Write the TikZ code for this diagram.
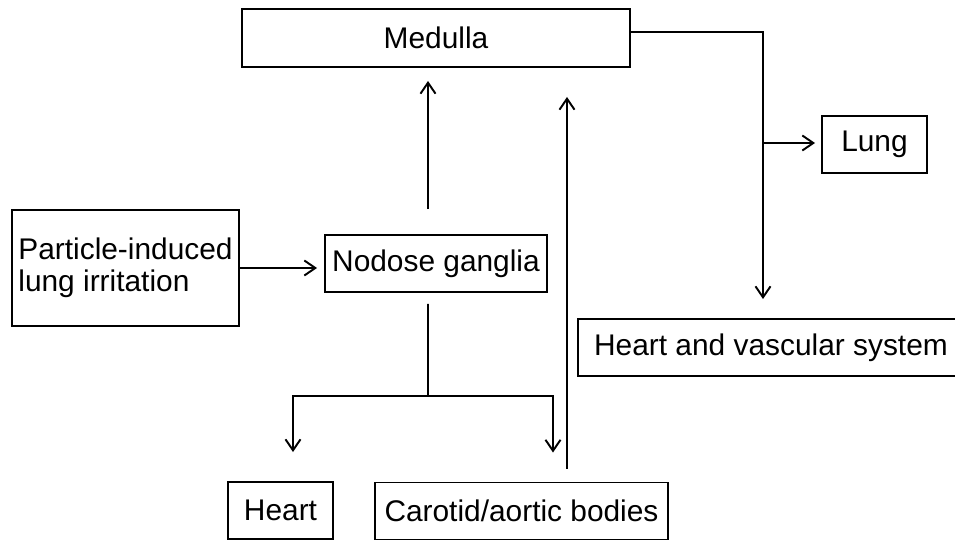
\documentclass[tikz,border=0pt]{standalone}
\usepackage{fontspec}
\setmainfont{Liberation Sans}
\usetikzlibrary{arrows.meta}

\begin{document}
\begin{tikzpicture}[line width=1.1pt,
    box/.style={rectangle,draw,inner sep=0pt,minimum height=1.14cm,
      font=\fontsize{17pt}{18.5pt}\selectfont},
    arr/.style={-{Straight Barb[length=0.22cm,width=0.3cm]}}]
    \useasboundingbox (0,0) rectangle (19.1,-10.8);

    \node (medulla) [box,minimum width=7.76cm,minimum height=1.16cm] at (8.72,-0.76) {Medulla};

    \node (particle) [box,align=left,minimum width=4.54cm,minimum height=2.32cm] at (2.51,-5.36) {Particle-induced\\lung irritation};
    \node (nodose) [box,minimum width=4.44cm] at (8.72,-5.27) {Nodose ganglia};

    \node (lung) [box,minimum width=2.1cm] at (17.49,-2.89) {Lung};
    \node (hvs) [box,minimum width=7.72cm] at (15.42,-6.95) {Heart and vascular system};

    \node (heart) [box,minimum width=2.1cm] at (5.61,-10.21) {Heart};
    \node (carotid) [box,minimum width=5.86cm] at (10.43,-10.22) {Carotid/aortic bodies};

    \coordinate (split) at (8.56,-7.92);
    \coordinate (branch) at (15.26,-2.86);

  \draw[arr,shorten >=0.14cm] (particle.east) -- (particle.east -| nodose.west);

  \draw[arr,shorten <=0.5cm,shorten >=0.26cm] ([xshift=-0.16cm]nodose.north) -- ([xshift=-0.16cm]medulla.south);

  \draw[shorten <=0.22cm] ([xshift=-0.16cm]nodose.south) -- (split);
  \draw[arr,shorten >=0.58cm] (split) -| ([xshift=0.25cm]heart.north);
  \draw[arr,shorten >=0.58cm] (split) -| ([xshift=0.63cm]carotid.north);

  \draw[arr,shorten <=0.26cm,shorten >=0.58cm] ([xshift=0.91cm]carotid.north) -- ([xshift=0.91cm]carotid.north |- medulla.south);

  \draw[arr,shorten >=0.38cm] ([yshift=0.12cm]medulla.east) -| ([xshift=-0.16cm]hvs.north);
  \draw[arr,shorten >=0.12cm] (branch) -- (branch -| lung.west);
\end{tikzpicture}
\end{document}
